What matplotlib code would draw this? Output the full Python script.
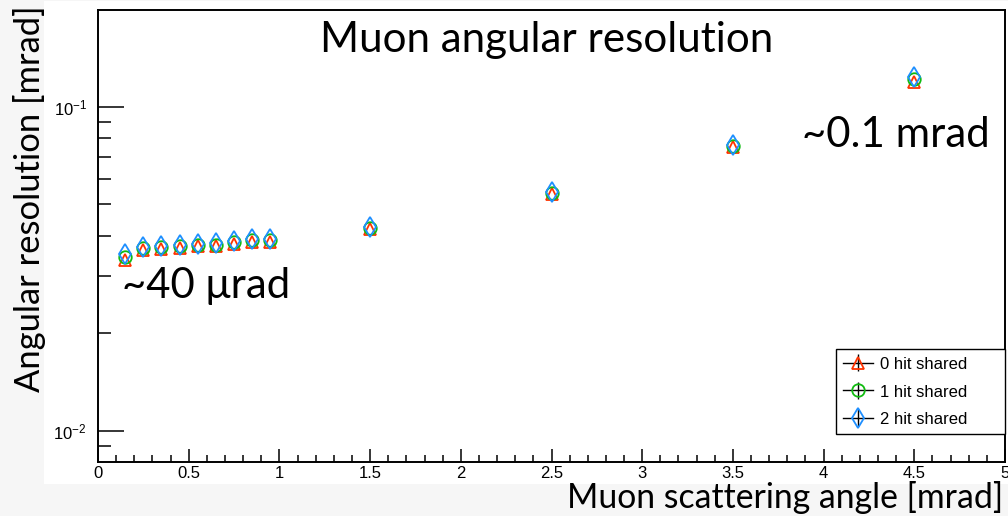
import numpy as np
import matplotlib
matplotlib.use("Agg")
import matplotlib.pyplot as plt
from matplotlib.lines import Line2D
from matplotlib.patches import Rectangle
from matplotlib.ticker import MultipleLocator, LogLocator, NullFormatter, FixedLocator, FixedFormatter

plt.rcParams['font.family'] = ['Liberation Sans', 'DejaVu Sans']
plt.rcParams['mathtext.fontset'] = 'custom'
plt.rcParams['mathtext.rm'] = 'Liberation Sans'
plt.rcParams['mathtext.default'] = 'regular'

# scattering angle bins [mrad]
angle = [0.15, 0.25, 0.35, 0.45, 0.55, 0.65, 0.75, 0.85, 0.95, 1.5, 2.5, 3.5, 4.5]

# angular resolution [mrad] for each number of shared hits
res_0hit = [0.0338, 0.0362, 0.0365, 0.0368, 0.0371, 0.0372, 0.0378, 0.0384, 0.0383, 0.0420, 0.0538, 0.0752, 0.1190]
res_1hit = [0.0344, 0.0367, 0.0369, 0.0372, 0.0375, 0.0376, 0.0382, 0.0388, 0.0387, 0.0424, 0.0543, 0.0758, 0.1220]
res_2hit = [0.0352, 0.0370, 0.0372, 0.0375, 0.0378, 0.0379, 0.0385, 0.0391, 0.0390, 0.0427, 0.0547, 0.0763, 0.1240]

labels = ['0 hit shared', '1 hit shared', '2 hit shared']
ytick_vals = [0.01, 0.1]
ytick_text = ['10$^{-2}$', '10$^{-1}$']
xtick_vals = [0, 0.5, 1, 1.5, 2, 2.5, 3, 3.5, 4, 4.5, 5]
xtick_text = ['0', '0.5', '1', '1.5', '2', '2.5', '3', '3.5', '4', '4.5', '5']

W, H = 1008, 516
fig = plt.figure(figsize=(W / 100, H / 100), dpi=100, facecolor='#f6f6f6')

# white canvas behind the frame
fig.patches.append(Rectangle((44 / W, 1 - 484 / H), (W - 44) / W, 483 / H,
                             transform=fig.transFigure, facecolor='white',
                             edgecolor='none', zorder=-10))

ax = fig.add_axes([98 / W, 1 - 462 / H, (1005 - 98) / W, (462 - 10) / H])
ax.set_zorder(1)
ax.set_facecolor('white')

styles = [
    dict(marker='^', color='#ff3300', ms=8.5),
    dict(marker='o', color='#11bb11', ms=9),
    dict(marker='d', color='#1e8fff', ms=10),
]

handles = []
for y, st in zip([res_0hit, res_1hit, res_2hit], styles):
    ax.plot(angle, y, ls='none', marker=st['marker'], ms=st['ms'], mfc='none',
            mec=st['color'], mew=1.3)
    # legend entry: line + error bar + marker
    eb = ax.errorbar([], [], yerr=[], fmt=st['marker'], ls='none', ms=st['ms'],
                     mfc='none', mec=st['color'], mew=1.3, ecolor='black',
                     elinewidth=1, capsize=3)
    hline = Line2D([], [], color='black', lw=1)
    handles.append((hline, eb))

ax.set_yscale('log')
ax.set_xlim(0, 5)
ax.set_ylim(0.00802, 0.199)

ax.xaxis.set_major_locator(FixedLocator(xtick_vals))
ax.xaxis.set_major_formatter(FixedFormatter(xtick_text))
ax.xaxis.set_minor_locator(MultipleLocator(0.1))
ax.yaxis.set_major_locator(FixedLocator(ytick_vals))
ax.yaxis.set_major_formatter(FixedFormatter(ytick_text))
ax.yaxis.set_minor_locator(LogLocator(base=10, subs=np.arange(2, 10)))
ax.yaxis.set_minor_formatter(NullFormatter())

ax.tick_params(axis='both', which='both', direction='in', top=False, right=False,
               width=1.1, labelsize=12)
ax.tick_params(axis='x', which='major', length=9.5, pad=3)
ax.tick_params(axis='x', which='minor', length=4.7)
ax.tick_params(axis='y', which='major', length=19, pad=8)
ax.tick_params(axis='y', which='minor', length=9.5)
for sp in ax.spines.values():
    sp.set_linewidth(1.4)

leg = ax.legend(handles, labels, loc='lower left',
                bbox_to_anchor=(0.8137, 0.062, 0.1863, 0.188), mode='expand',
                borderaxespad=0, fancybox=False, edgecolor='black', framealpha=1,
                fontsize=12, numpoints=1, handlelength=1.8, handletextpad=0.42,
                labelspacing=0.68, borderpad=0.4, handleheight=1.0)
leg.get_frame().set_linewidth(1.0)

fig.text(547 / W, 1 - 40 / H, 'Muon angular resolution', family='Lato',
         fontsize=30.3, ha='center', va='center', zorder=5)
fig.text(122 / W, 1 - 286 / H, '~40 μrad', family='Lato', fontsize=30.2,
         ha='left', va='center', zorder=5)
fig.text(802 / W, 1 - 135 / H, '~0.1 mrad', family='Lato', fontsize=30.2,
         ha='left', va='center', zorder=5)
fig.text(1003 / W, 1 - 497 / H, 'Muon scattering angle [mrad]', family='Lato',
         fontsize=24.3, ha='right', va='center', zorder=5)
fig.text(29 / W, 1 - 392 / H, 'Angular resolution [mrad]', family='Lato',
         fontsize=24.8, rotation=90, rotation_mode='anchor', ha='left', va='center',
         zorder=5)

fig.savefig('out.png', dpi=100, facecolor=fig.get_facecolor())
